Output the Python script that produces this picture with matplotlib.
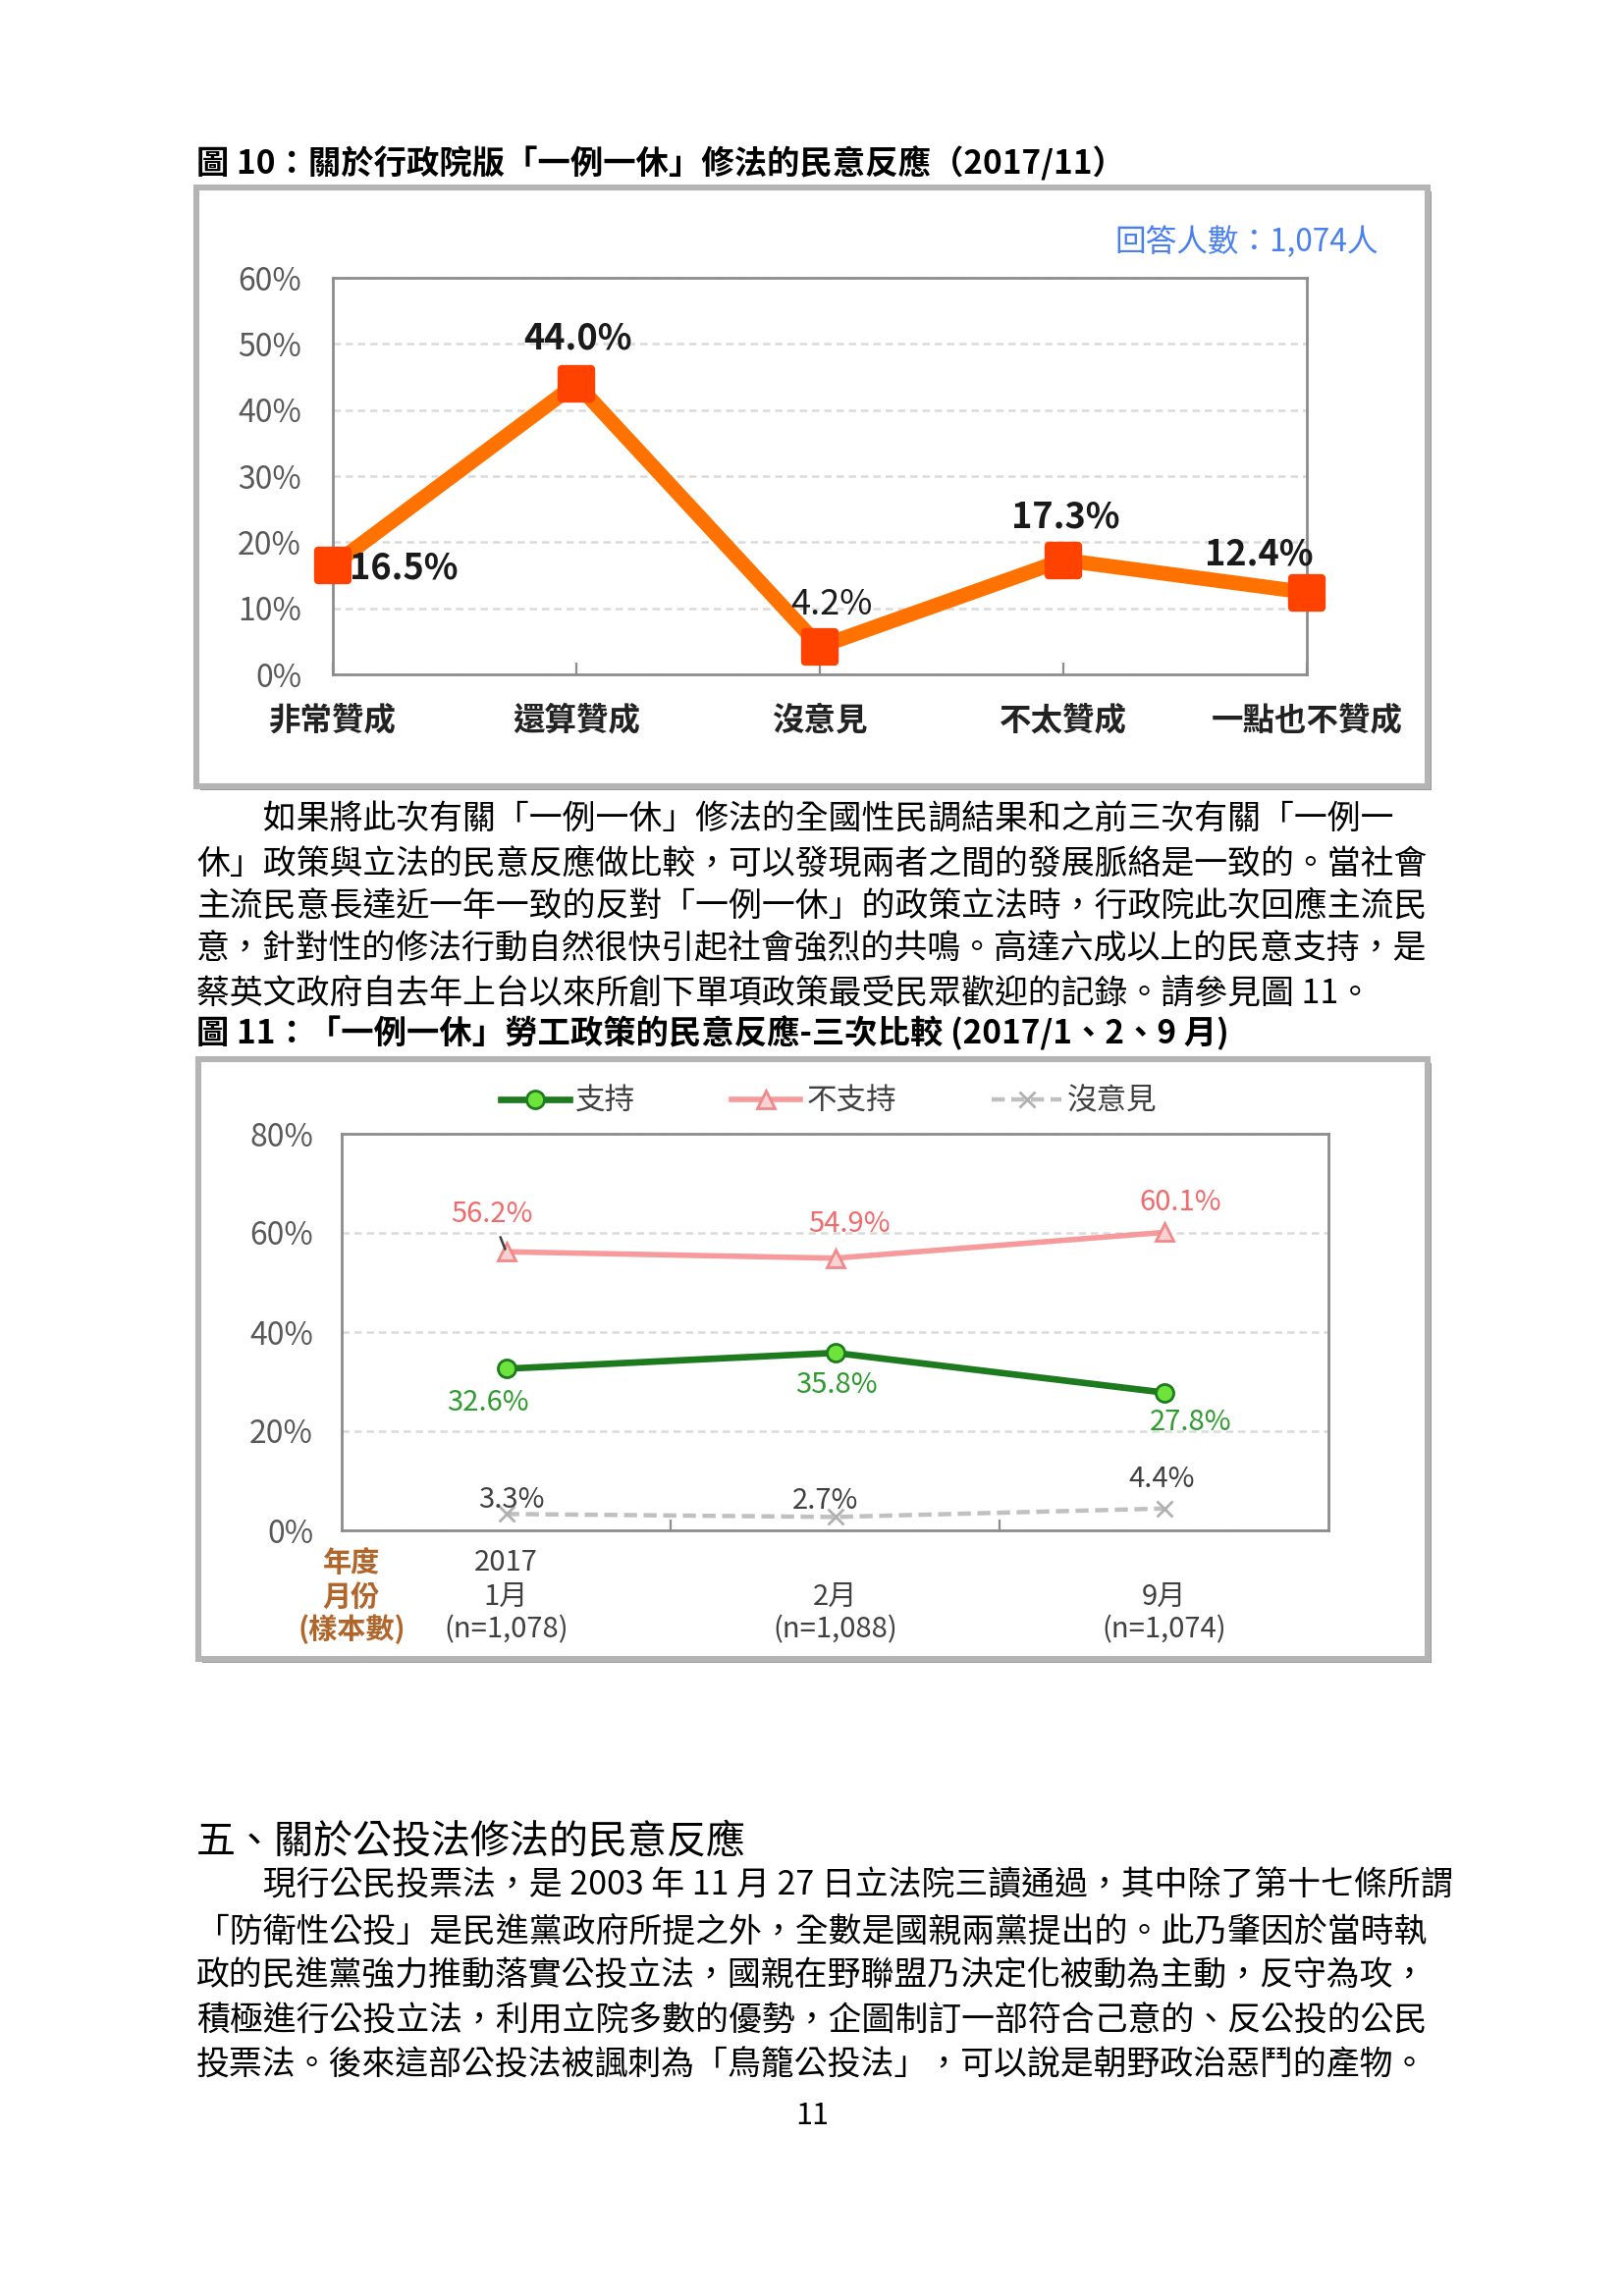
import numpy as np
import matplotlib
matplotlib.use('Agg')
import matplotlib.pyplot as plt
from matplotlib.patches import Rectangle
from matplotlib.markers import MarkerStyle
from matplotlib.lines import Line2D

plt.rcParams['font.family'] = ['Noto Sans CJK TC', 'DejaVu Sans']

# ---- data: figure 10 ----
opinion_labels = ['非常贊成', '還算贊成', '沒意見', '不太贊成', '一點也不贊成']
opinion_values = [16.5, 44.0, 4.2, 17.3, 12.4]

# ---- data: figure 11 ----
survey_year = ['2017', '', '']
survey_month = ['1月', '2月', '9月']
survey_n = ['(n=1,078)', '(n=1,088)', '(n=1,074)']
support = [32.6, 35.8, 27.8]
oppose = [56.2, 54.9, 60.1]
no_opinion = [3.3, 2.7, 4.4]

# ---- page text ----
title10 = '圖 10：關於行政院版「一例一休」修法的民意反應（2017/11）'
title11 = '圖 11：「一例一休」勞工政策的民意反應-三次比較 (2017/1、2、9 月)'
para1 = ['　　如果將此次有關「一例一休」修法的全國性民調結果和之前三次有關「一例一',
         '休」政策與立法的民意反應做比較，可以發現兩者之間的發展脈絡是一致的。當社會',
         '主流民意長達近一年一致的反對「一例一休」的政策立法時，行政院此次回應主流民',
         '意，針對性的修法行動自然很快引起社會強烈的共鳴。高達六成以上的民意支持，是',
         '蔡英文政府自去年上台以來所創下單項政策最受民眾歡迎的記錄。請參見圖 11。']
heading5 = '五、關於公投法修法的民意反應'
para2 = ['　　現行公民投票法，是 2003 年 11 月 27 日立法院三讀通過，其中除了第十七條所謂',
         '「防衛性公投」是民進黨政府所提之外，全數是國親兩黨提出的。此乃肇因於當時執',
         '政的民進黨強力推動落實公投立法，國親在野聯盟乃決定化被動為主動，反守為攻，',
         '積極進行公投立法，利用立院多數的優勢，企圖制訂一部符合己意的、反公投的公民',
         '投票法。後來這部公投法被諷刺為「鳥籠公投法」，可以說是朝野政治惡鬥的產物。']

W, H = 1653, 2339
fig = plt.figure(figsize=(W / 200, H / 200), dpi=200)
fig.patch.set_facecolor('white')


def fx(px):
    return px / W


def fy(py):
    return 1 - py / H


def draw_box(x0, y0, x1, y1):
    sh = Rectangle((fx(x0 + 4), fy(y1 + 4)), fx(x1 - x0), (y1 - y0) / H,
                   transform=fig.transFigure, facecolor='#9a9a9a',
                   edgecolor='none', zorder=-3)
    fig.add_artist(sh)
    box = Rectangle((fx(x0), fy(y1)), fx(x1 - x0), (y1 - y0) / H,
                    transform=fig.transFigure, facecolor='white',
                    edgecolor='#b4b4b4', lw=2.2, zorder=-2)
    fig.add_artist(box)


# ---------------- figure 10 ----------------
fig.text(fx(200), fy(167), title10, fontsize=12, fontweight='bold',
         va='center', ha='left', color='black')
draw_box(200, 191, 1454, 801)
fig.text(fx(1404), fy(247), '回答人數：1,074人', fontsize=11.4,
         color='#4a7ff0', ha='right', va='center')

ax1 = fig.add_axes([fx(339), fy(687), (1331 - 339) / W, 404 / H])
ax1.set_facecolor('none')
x1 = np.arange(len(opinion_values))
ax1.plot(x1, opinion_values, color='#ff7200', lw=5.4, zorder=3, clip_on=False)
ax1.plot(x1, opinion_values, ls='none',
         marker=MarkerStyle('s', joinstyle='round'), ms=11, mfc='#ff4200',
         mec='#ff4200', mew=3, zorder=4, clip_on=False)
ax1.set_xlim(0, 4)
ax1.set_ylim(0, 60)
ax1.set_yticks(np.arange(0, 61, 10))
ax1.set_yticklabels([f'{v}%' for v in range(0, 61, 10)])
ax1.set_xticks(x1)
ax1.set_xticklabels(opinion_labels, fontsize=11.7, fontweight='bold',
                    color='#222222')
ax1.yaxis.grid(True, color='#dadada', lw=0.9, ls=(0, (3, 2)))
ax1.set_axisbelow(True)
for s in ax1.spines.values():
    s.set_color('#8c8c8c')
    s.set_linewidth(1)
ax1.tick_params(axis='y', length=0, pad=11.5, labelsize=11.5,
                labelcolor='#595959')
ax1.tick_params(axis='x', direction='in', length=4.4, color='#8c8c8c', pad=11)

label_offsets1 = [(6, -1), (0.7, 16.5), (4.3, 15.5), (0.7, 15.5), (-17.6, 13.7)]
label_weights1 = ['bold', 'bold', 'normal', 'bold', 'bold']
for i, v in enumerate(opinion_values):
    ha = 'left' if i == 0 else 'center'
    ax1.annotate(f'{v:.1f}%', (x1[i], v), xytext=label_offsets1[i],
                 textcoords='offset points', ha=ha, va='center',
                 fontsize=13, fontweight=label_weights1[i], color='#1a1a1a',
                 zorder=5)

# ---------------- paragraph 1 ----------------
para1_y = [835, 880, 923, 967, 1012]
for line, yy in zip(para1, para1_y):
    fig.text(fx(200), fy(yy), line, fontsize=12.2, va='center', ha='left',
             color='black')

# ---------------- figure 11 ----------------
fig.text(fx(200), fy(1053), title11, fontsize=12, fontweight='bold',
         va='center', ha='left', color='black')
draw_box(202, 1079, 1454, 1690)

ax2 = fig.add_axes([fx(348), fy(1559), (1353 - 348) / W, 404 / H])
ax2.set_facecolor('none')
x2 = np.arange(len(support)) + 0.5
l_sup, = ax2.plot(x2, support, color='#1e7a1e', lw=2.4, marker='o', ms=6.5,
                  mfc='#6ee33c', mec='#1e7a1e', mew=1, zorder=4)
l_opp, = ax2.plot(x2, oppose, color='#f79a9c', lw=2.0, marker='^', ms=6.5,
                  mfc='#fbd2d2', mec='#f08a8a', mew=1, zorder=4)
l_no, = ax2.plot(x2, no_opinion, color='#c0c0c0', lw=1.6, ls=(0, (3, 1.5)),
                 marker='x', ms=5.5, mec='#b0b0b0', mew=1, zorder=4)
ax2.set_xlim(0, 3)
ax2.set_ylim(0, 80)
ax2.set_yticks(np.arange(0, 81, 20))
ax2.set_yticklabels([f'{v}%' for v in range(0, 81, 20)])
ax2.set_xticks([1, 2])
ax2.set_xticklabels([])
ax2.yaxis.grid(True, color='#dadada', lw=0.9, ls=(0, (3, 2)))
ax2.set_axisbelow(True)
for s in ax2.spines.values():
    s.set_color('#8c8c8c')
    s.set_linewidth(1)
ax2.tick_params(axis='y', length=0, pad=10.4, labelsize=11.5,
                labelcolor='#595959')
ax2.tick_params(axis='x', direction='in', length=4, color='#8c8c8c')

opp_off = [(-5.4, 13.7), (5.4, 12.6), (6.1, 10.8)]
sup_off = [(-6.5, -12.6), (0.7, -11.9), (9.7, -10.8)]
no_off = [(1.8, 5), (-3.6, 5.8), (-0.7, 10.8)]
for i in range(3):
    if i == 0:
        ax2.annotate(f'{oppose[i]:.1f}%', (x2[i], oppose[i]), xytext=opp_off[i],
                     textcoords='offset points', ha='center', va='center',
                     fontsize=10.5, color='#f06b6b', zorder=5,
                     arrowprops=dict(arrowstyle='-', color='#404040', lw=0.9,
                                     shrinkA=1, shrinkB=1))
    else:
        ax2.annotate(f'{oppose[i]:.1f}%', (x2[i], oppose[i]), xytext=opp_off[i],
                     textcoords='offset points', ha='center', va='center',
                     fontsize=10.5, color='#f06b6b', zorder=5)
    ax2.annotate(f'{support[i]:.1f}%', (x2[i], support[i]), xytext=sup_off[i],
                 textcoords='offset points', ha='center', va='center',
                 fontsize=10.5, color='#2f9a2f', zorder=5)
    ax2.annotate(f'{no_opinion[i]:.1f}%', (x2[i], no_opinion[i]),
                 xytext=no_off[i], textcoords='offset points', ha='center',
                 va='center', fontsize=10.5, color='#404040', zorder=5)

fig.legend([l_sup, l_opp, l_no], ['支持', '不支持', '沒意見'],
           loc='center', bbox_to_anchor=(fx(844), fy(1122)), ncol=3,
           frameon=False, fontsize=11, handlelength=2.3, handletextpad=0.2,
           columnspacing=3.2, labelcolor='#404040')

# bottom category table
row_y = [1592, 1627, 1660]
row_names = ['年度', '月份', '(樣本數)']
for name, yy in zip(row_names, row_y):
    fig.text(fx(358), fy(yy), name, fontsize=10.5, fontweight='bold',
             color='#b0652a', ha='center', va='center')
for i in range(3):
    for txt, yy in zip([survey_year[i], survey_month[i], survey_n[i]], row_y):
        if txt:
            ax2.text(x2[i], (1559 - yy) / 404, txt, fontsize=10.5,
                     color='#404040', ha='center', va='center',
                     transform=ax2.get_xaxis_transform())

# ---------------- section five ----------------
fig.text(fx(200), fy(1877), heading5, fontsize=14.4, va='center', ha='left',
         color='black')
para2_y = [1921, 1968, 2013, 2059, 2104]
for line, yy in zip(para2, para2_y):
    fig.text(fx(200), fy(yy), line, fontsize=12.2, va='center', ha='left',
             color='black')

fig.text(fx(827), fy(2155), '11', fontsize=11, ha='center', va='center',
         color='black')

fig.savefig('out.png', dpi=200)
